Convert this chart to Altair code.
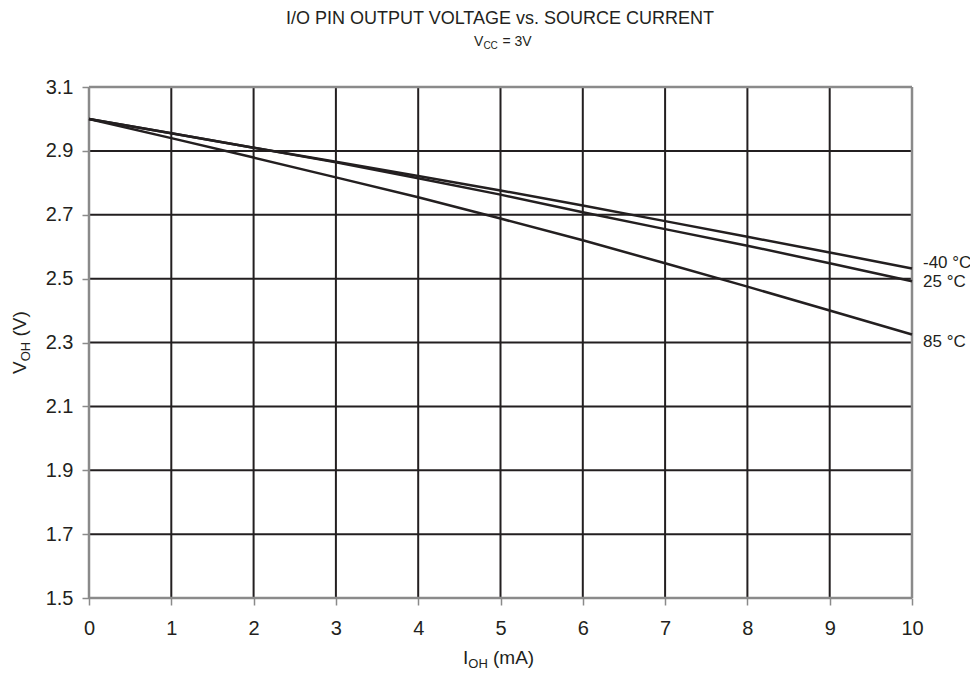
import altair as alt
import pandas as pd

# ---- data ----
current_ma = [0, 1, 2, 3, 4, 5, 6, 7, 8, 9, 10]
v_minus40 = [3.0, 2.955, 2.91, 2.866, 2.821, 2.776, 2.729, 2.68, 2.631, 2.582, 2.532]
v_25 = [3.0, 2.955, 2.91, 2.864, 2.814, 2.763, 2.708, 2.655, 2.603, 2.548, 2.492]
v_85 = [3.0, 2.94, 2.879, 2.817, 2.755, 2.688, 2.62, 2.548, 2.475, 2.40, 2.325]
series_names = ["-40 °C", "25 °C", "85 °C"]
label_y = [2.55, 2.488, 2.303]
x_ticks = [0, 1, 2, 3, 4, 5, 6, 7, 8, 9, 10]
y_ticks = [1.5, 1.7, 1.9, 2.1, 2.3, 2.5, 2.7, 2.9, 3.1]
x_grid = [1, 2, 3, 4, 5, 6, 7, 8, 9]
y_grid = [1.7, 1.9, 2.1, 2.3, 2.5, 2.7, 2.9]
x_frame = [0, 10]
y_frame = [1.5, 3.1]

INK = "#231f20"
FRAME = "#8a8a8a"
FONT = "Liberation Sans"
W, H = 823, 511

rows = []
for name, vals in zip(series_names, [v_minus40, v_25, v_85]):
    for c, v in zip(current_ma, vals):
        rows.append({"current": c, "voltage": v, "series": name})
df = pd.DataFrame(rows)
labels_df = pd.DataFrame({"series": series_names, "current": [10] * 3, "voltage": label_y})
xg_df = pd.DataFrame({"current": x_grid})
yg_df = pd.DataFrame({"voltage": y_grid})
xf_df = pd.DataFrame({"current": x_frame})
yf_df = pd.DataFrame({"voltage": y_frame})

xscale = alt.Scale(domain=[0, 10], nice=False, zero=False)
yscale = alt.Scale(domain=[1.5, 3.1], nice=False, zero=False)
xaxis = alt.Axis(values=x_ticks, grid=False, domain=False, ticks=True, tickColor=FRAME,
                 tickSize=7, tickWidth=1.5, labelPadding=13, labelFontSize=20, labelFont=FONT,
                 labelColor=INK, title=None, labelFlush=False)
yaxis = alt.Axis(values=y_ticks, format=".1f", grid=False, domain=False, ticks=True,
                 tickColor=FRAME, tickSize=7, tickWidth=1.5, labelPadding=9, labelFontSize=20,
                 labelFont=FONT, labelColor=INK, title=None, labelFlush=False)

X = alt.X("current:Q", scale=xscale, axis=xaxis)
Y = alt.Y("voltage:Q", scale=yscale, axis=yaxis)

vgrid = alt.Chart(xg_df).mark_rule(color=INK, strokeWidth=2).encode(x=X)
hgrid = alt.Chart(yg_df).mark_rule(color=INK, strokeWidth=2).encode(y=Y)
vframe = alt.Chart(xf_df).mark_rule(color=FRAME, strokeWidth=2.5).encode(x=X)
hframe = alt.Chart(yf_df).mark_rule(color=FRAME, strokeWidth=2.5).encode(y=Y)

lines = alt.Chart(df).mark_line(color=INK, strokeWidth=2.5).encode(
    x=X, y=Y, detail="series:N",
)

labels = alt.Chart(labels_df).mark_text(align="left", baseline="middle", dx=11,
                                        font=FONT, fontSize=17, color=INK).encode(
    x=X, y=Y, text="series:N",
)

one = pd.DataFrame({"k": [0]})


def txt(s, x, y, size, angle=0, align="left"):
    return alt.Chart(one).mark_text(text=s, align=align, baseline="alphabetic", font=FONT,
                                    fontSize=size, color=INK, angle=angle).encode(
        x=alt.value(x), y=alt.value(y))


# title and subtitle (plot coordinates: origin at top-left of plot area)
title = txt("I/O PIN OUTPUT VOLTAGE vs. SOURCE CURRENT", 411, -63, 18, align="center")
sub_x0 = 385
sub = [
    txt("V", sub_x0, -41, 14),
    txt("CC", sub_x0 + 9.4, -38, 10),
    txt("= 3V", sub_x0 + 28.5, -41, 14),
]
# x title I_OH (mA)
xt0 = 374
xtitle = [
    txt("I", xt0, 577, 19),
    txt("OH", xt0 + 5.3, 581, 13),
    txt("(mA)", xt0 + 30, 577, 19),
]
# y title V_OH (V) rotated
yt0 = 287  # bottom start (plot y)
ytitle = [
    txt("V", -63, yt0, 19, angle=270),
    txt("OH", -59, yt0 - 12.7, 13, angle=270),
    txt("(V)", -63, yt0 - 37.5, 19, angle=270),
]

chart = alt.layer(vgrid, hgrid, vframe, hframe, lines, labels, title, *sub, *xtitle, *ytitle).properties(
    width=W, height=H,
    autosize=alt.AutoSizeParams(type="none"),
    padding={"left": 81, "top": 79, "right": 58, "bottom": 73},
).configure_view(stroke=None).configure(background="white")

chart.save("out.html", embed_options={"renderer": "svg", "actions": False})
